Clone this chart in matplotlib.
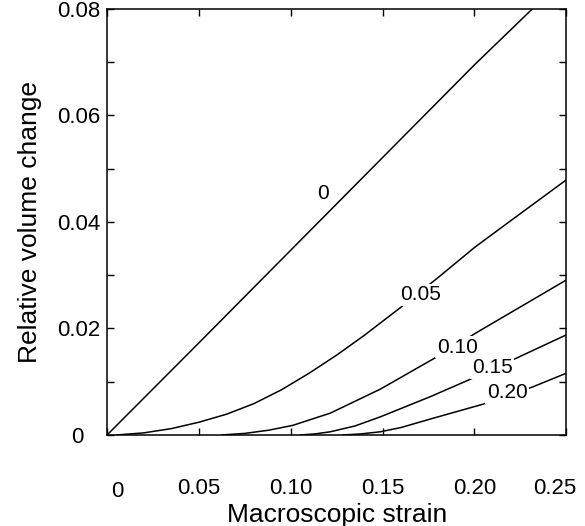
import matplotlib
matplotlib.use('Agg')
import matplotlib.pyplot as plt
import matplotlib.transforms as mtransforms

plt.rcParams['font.family'] = ['Liberation Sans', 'DejaVu Sans']

# curves of relative volume change vs macroscopic strain, one per parameter value
strain_0 = [0, 0.05, 0.10, 0.15, 0.20, 0.2315]
vol_0 = [0, 0.0173, 0.0347, 0.0521, 0.0695, 0.0800]

strain_05 = [0.005, 0.02, 0.035, 0.05, 0.065, 0.08, 0.095, 0.11, 0.125,
             0.14, 0.16, 0.18, 0.20, 0.22, 0.25]
vol_05 = [0, 0.0004, 0.0012, 0.0024, 0.0039, 0.0059, 0.0085, 0.0116, 0.0150,
          0.0187, 0.0240, 0.0295, 0.0352, 0.0403, 0.0479]

strain_10 = [0.062, 0.075, 0.088, 0.101, 0.1215, 0.1487, 0.1797, 0.2015, 0.250]
vol_10 = [0, 0.0003, 0.0009, 0.0018, 0.0041, 0.0086, 0.0147, 0.0193, 0.0291]

strain_15 = [0.105, 0.113, 0.1215, 0.135, 0.1487, 0.176, 0.196, 0.2233, 0.250]
vol_15 = [0, 0.0002, 0.0006, 0.0017, 0.0034, 0.0072, 0.0102, 0.0145, 0.0188]

strain_20 = [0.128, 0.138, 0.1487, 0.16, 0.176, 0.2048, 0.2315, 0.250]
vol_20 = [0, 0.0002, 0.0006, 0.0014, 0.0030, 0.0058, 0.0090, 0.0116]

curve_labels = ['0', '0.05', '0.10', '0.15', '0.20']
label_x = [0.1176, 0.1705, 0.1906, 0.2097, 0.2179]
label_y = [0.0454, 0.0263, 0.0165, 0.0126, 0.0079]

xticks = [0, 0.05, 0.10, 0.15, 0.20, 0.25]
xtick_labels = ['0', '0.05', '0.10', '0.15', '0.20', '0.25']
yticks = [0, 0.01, 0.02, 0.03, 0.04, 0.05, 0.06, 0.07, 0.08]
ytick_labels = ['0', '', '0.02', '', '0.04', '', '0.06', '', '0.08']

fig = plt.figure(figsize=(5.85, 5.26), dpi=100)
ax = fig.add_axes([0.183, 0.173, 0.785, 0.81])

curves = [(strain_0, vol_0), (strain_05, vol_05), (strain_10, vol_10),
          (strain_15, vol_15), (strain_20, vol_20)]
for s, v in curves:
    ax.plot(s, v, color='black', lw=1.1, solid_capstyle='butt')

for txt, lx, ly in zip(curve_labels, label_x, label_y):
    bg = 'none' if txt == '0' else 'white'
    ax.text(lx, ly, txt, fontsize=15, ha='center', va='center',
            bbox=dict(facecolor=bg, edgecolor='none', pad=1.0))

ax.set_xlim(0, 0.25)
ax.set_ylim(0, 0.08)
ax.set_xticks(xticks)
ax.set_xticklabels(xtick_labels)
ax.set_yticks(yticks)
ax.set_yticklabels(ytick_labels)

ax.tick_params(direction='in', length=5, width=1.0, top=True, right=True,
               labelsize=16)
ax.tick_params(axis='x', pad=31)
ax.tick_params(axis='y', pad=5)
for sp in ax.spines.values():
    sp.set_linewidth(1.1)

# the end labels sit a little off the others
def nudge(label, dx, dy):
    off = mtransforms.ScaledTranslation(dx, dy, fig.dpi_scale_trans)
    label.set_transform(label.get_transform() + off)

nudge(ax.get_yticklabels()[0], -0.17, 0)
nudge(ax.get_xticklabels()[0], 0.1, -0.03)
nudge(ax.get_xticklabels()[-1], -0.12, 0)

ax.set_xlabel('Macroscopic strain', fontsize=19, labelpad=1)
ax.set_ylabel('Relative volume change', fontsize=19, labelpad=11)

fig.savefig('out.png', dpi=100)
